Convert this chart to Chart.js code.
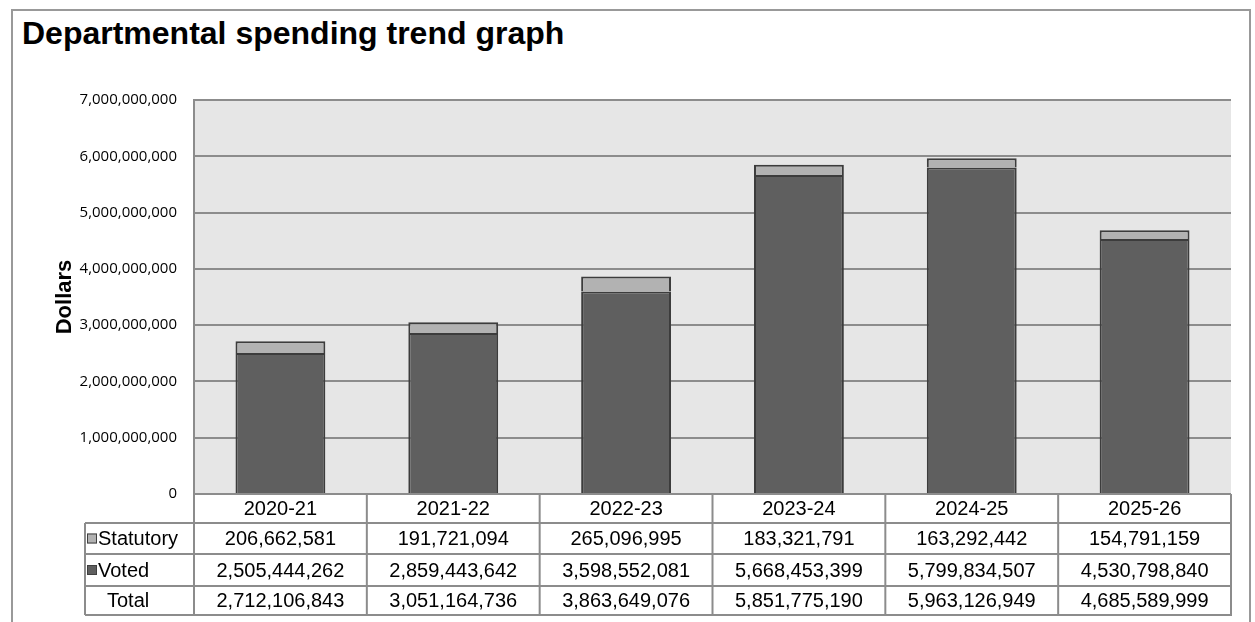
<!DOCTYPE html>
<html>
<head>
<meta charset="utf-8">
<script src="https://cdn.jsdelivr.net/npm/chart.js@4"></script>
<style>
  html, body { margin: 0; padding: 0; background: #fff; }
  body { width: 1255px; height: 622px; position: relative; overflow: hidden; }
  #frame { position: absolute; left: 11px; top: 9px; width: 1240px; height: 700px; border: 2px solid #999; box-sizing: border-box; }
  #title { position: absolute; left: 22px; top: 17px; margin: 0; font: bold 32px "Liberation Sans", Arial, sans-serif; line-height: 32px; color: #000; }
  #c { position: absolute; left: 0; top: 0; }
</style>
</head>
<body>
<div id="frame"></div>
<h1 id="title">Departmental spending trend graph</h1>
<canvas id="c" width="1255" height="622"></canvas>
<script>
// data
const years = ["2020-21", "2021-22", "2022-23", "2023-24", "2024-25", "2025-26"];
const statutory = [206662581, 191721094, 265096995, 183321791, 163292442, 154791159];
const voted = [2505444262, 2859443642, 3598552081, 5668453399, 5799834507, 4530798840];
const totals = [2712106843, 3051164736, 3863649076, 5851775190, 5963126949, 4685589999];
const yTicks = [0, 1000000000, 2000000000, 3000000000, 4000000000, 5000000000, 6000000000, 7000000000];

const lineCol = "#8c8c8c";
const fmt = v => v.toLocaleString("en-US");

// grey plot background + the data table under the x axis
const tablePlugin = {
  id: "dataTable",
  beforeDraw(chart) {
    const { ctx, chartArea: a } = chart;
    ctx.save();
    ctx.fillStyle = "#e6e6e6";
    ctx.fillRect(a.left, a.top, a.right - a.left, a.bottom - a.top);
    ctx.restore();
  },
  afterDraw(chart) {
    const { ctx, chartArea: a, scales: { x } } = chart;
    const top = a.bottom, hdr = top + 29, r1 = hdr + 31, r2 = r1 + 32, bot = r2 + 29;
    const left = 85;
    const edges = [a.left];
    for (let i = 1; i < years.length; i++) {
      edges.push((x.getPixelForValue(i - 1) + x.getPixelForValue(i)) / 2);
    }
    edges.push(a.right);

    ctx.save();
    ctx.strokeStyle = lineCol;
    ctx.lineWidth = 2;
    ctx.beginPath();
    edges.forEach(e => { ctx.moveTo(e, top); ctx.lineTo(e, bot); });
    ctx.moveTo(left, hdr); ctx.lineTo(left, bot);
    ctx.moveTo(a.left, top); ctx.lineTo(a.right, top);
    [hdr, r1, r2, bot].forEach(y => { ctx.moveTo(left, y); ctx.lineTo(a.right + 1, y); });
    ctx.stroke();

    const rows = [
      { label: "Statutory", vals: statutory, key: "#b2b2b2", y: (hdr + r1) / 2 },
      { label: "Voted", vals: voted, key: "#5f5f5f", y: (r1 + r2) / 2 },
      { label: "Total", vals: totals, key: null, y: (r2 + bot) / 2 }
    ];
    ctx.font = '20px "Liberation Sans", Arial, sans-serif';
    ctx.fillStyle = "#000";
    ctx.textBaseline = "middle";
    rows.forEach(r => {
      if (r.key) {
        ctx.fillStyle = r.key;
        ctx.fillRect(87, r.y - 5, 10, 10);
        ctx.strokeStyle = "#404040";
        ctx.lineWidth = 1;
        ctx.strokeRect(87.5, r.y - 4.5, 9, 9);
        ctx.fillStyle = "#000";
        ctx.textAlign = "left";
        ctx.fillText(r.label, 98, r.y + 1);
      } else {
        ctx.textAlign = "left";
        ctx.fillText(r.label, 107, r.y + 1);
      }
      ctx.textAlign = "center";
      r.vals.forEach((v, i) => ctx.fillText(fmt(v), x.getPixelForValue(i), r.y + 1));
    });
    ctx.restore();
  }
};

new Chart(document.getElementById("c"), {
  type: "bar",
  data: {
    labels: years,
    datasets: [
      {
        label: "Voted",
        data: voted,
        backgroundColor: "#5f5f5f",
        borderColor: "#3c3c3c",
        borderWidth: 2
      },
      {
        label: "Statutory",
        data: statutory,
        backgroundColor: "#b2b2b2",
        borderColor: "#3c3c3c",
        borderWidth: 2
      }
    ]
  },
  options: {
    responsive: false,
    animation: false,
    devicePixelRatio: 1,
    layout: { padding: { top: 100, right: 24, bottom: 99, left: 0 } },
    datasets: { bar: { categoryPercentage: 1, barPercentage: 0.52 } },
    plugins: { legend: { display: false }, tooltip: { enabled: false } },
    scales: {
      x: {
        stacked: true,
        grid: { display: false, drawTicks: false },
        border: { display: false },
        ticks: { color: "#000", padding: 3, font: { family: '"Liberation Sans", Arial, sans-serif', size: 20 } },
        afterFit(s) { s.height = 29; }
      },
      y: {
        stacked: true,
        min: 0,
        max: 7000000000,
        afterBuildTicks(s) { s.ticks = yTicks.map(v => ({ value: v })); },
        grid: { color: lineCol, lineWidth: 2, drawTicks: false },
        border: { display: true, color: lineCol, width: 2 },
        ticks: {
          color: "#000",
          padding: 17,
          font: { family: '"Open Sans", sans-serif', size: 15 },
          callback: v => fmt(v)
        },
        title: {
          display: true,
          text: "Dollars",
          color: "#000",
          font: { family: '"Liberation Sans", Arial, sans-serif', size: 22, weight: "bold" },
          padding: { top: 52, bottom: 0 }
        },
        afterFit(s) { s.width = 194; }
      }
    }
  },
  plugins: [tablePlugin]
});
</script>
</body>
</html>
